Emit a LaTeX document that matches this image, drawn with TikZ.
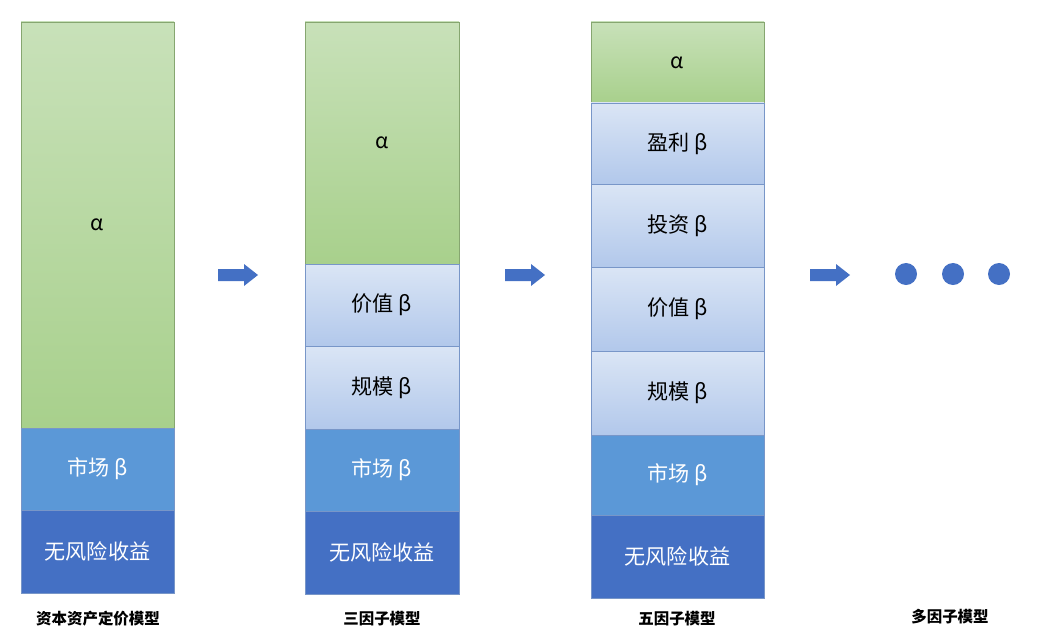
\documentclass[tikz,border=0pt]{standalone}
\usepackage{fontspec}
\setmainfont{Noto Sans CJK SC}
\definecolor{alphatop}{RGB}{200,225,185}
\definecolor{alphabot}{RGB}{168,208,140}
\definecolor{betatop}{RGB}{218,229,245}
\definecolor{betabot}{RGB}{178,200,235}
\definecolor{market}{RGB}{91,152,215}
\definecolor{riskfree}{RGB}{68,112,196}
\definecolor{edge}{RGB}{120,150,200}
\tikzset{
  layer/.style = {draw = edge, line width = 0.4pt, inner sep = 0pt, align = center, font = \fontsize{15}{15}\selectfont},
  alphabox/.style = {layer, top color = alphatop, bottom color = alphabot, draw = alphabot!80!black},
  betabox/.style = {layer, top color = betatop, bottom color = betabot},
  marketbox/.style = {layer, fill = market, text = white},
  freebox/.style = {layer, fill = riskfree, text = white},
  caption/.style = {font = \bfseries\fontsize{11}{11}\selectfont},
  dot/.style = {circle, fill = riskfree, minimum size = 0.55cm, inner sep = 0pt}
}
\begin{document}
\begin{tikzpicture}[x = 0.025cm, y = -0.025cm]
\useasboundingbox (0,0) rectangle (1052,644);
% box from (x1,y1) to (x2,y2)
\newcommand\layerbox[7]{\node[#1, minimum width = #4*0.025cm - #2*0.025cm, minimum height = #5*0.025cm - #3*0.025cm] (#6) at ({(#2+#4)/2},{(#3+#5)/2}) {#7};}
% block arrow starting at (x,y)
\newcommand\flowarrow[2]{\fill[riskfree] (#1,#2) ++(0,-6) -- ++(26,0) -- ++(0,-5) -- ++(14,11) -- ++(-14,11) -- ++(0,-5) -- ++(-26,0) -- cycle;}
% CAPM
\layerbox{alphabox}{21}{22}{174}{428}{capmA}{α}
\layerbox{marketbox}{21}{428}{174}{510}{capmM}{市场 β}
\layerbox{freebox}{21}{510}{174}{593}{capmF}{无风险收益}
\node[caption] (capmL) at (98,619) {资本资产定价模型};
% three factors
\layerbox{alphabox}{305}{22}{459}{264}{threeA}{α}
\layerbox{betabox}{305}{264}{459}{346}{threeV}{价值 β}
\layerbox{betabox}{305}{346}{459}{429}{threeS}{规模 β}
\layerbox{marketbox}{305}{429}{459}{511}{threeM}{市场 β}
\layerbox{freebox}{305}{511}{459}{594}{threeF}{无风险收益}
\node[caption] (threeL) at (382,619) {三因子模型};
% five factors
\layerbox{alphabox}{591}{22}{764}{103}{fiveA}{α}
\layerbox{betabox}{591}{103}{764}{184}{fiveP}{盈利 β}
\layerbox{betabox}{591}{184}{764}{267}{fiveI}{投资 β}
\layerbox{betabox}{591}{267}{764}{351}{fiveV}{价值 β}
\layerbox{betabox}{591}{351}{764}{435}{fiveS}{规模 β}
\layerbox{marketbox}{591}{435}{764}{515}{fiveM}{市场 β}
\layerbox{freebox}{591}{515}{764}{598}{fiveF}{无风险收益}
\node[caption] (fiveL) at (677,619) {五因子模型};
% arrows and dots
\flowarrow{218}{275}
\flowarrow{505}{275}
\flowarrow{810}{275}
\foreach \x/\n in {906/1,953/2,999/3} \node[dot] (dot\n) at (\x,274) {};
\node[caption] (multiL) at (950,617) {多因子模型};
\end{tikzpicture}
\end{document}
